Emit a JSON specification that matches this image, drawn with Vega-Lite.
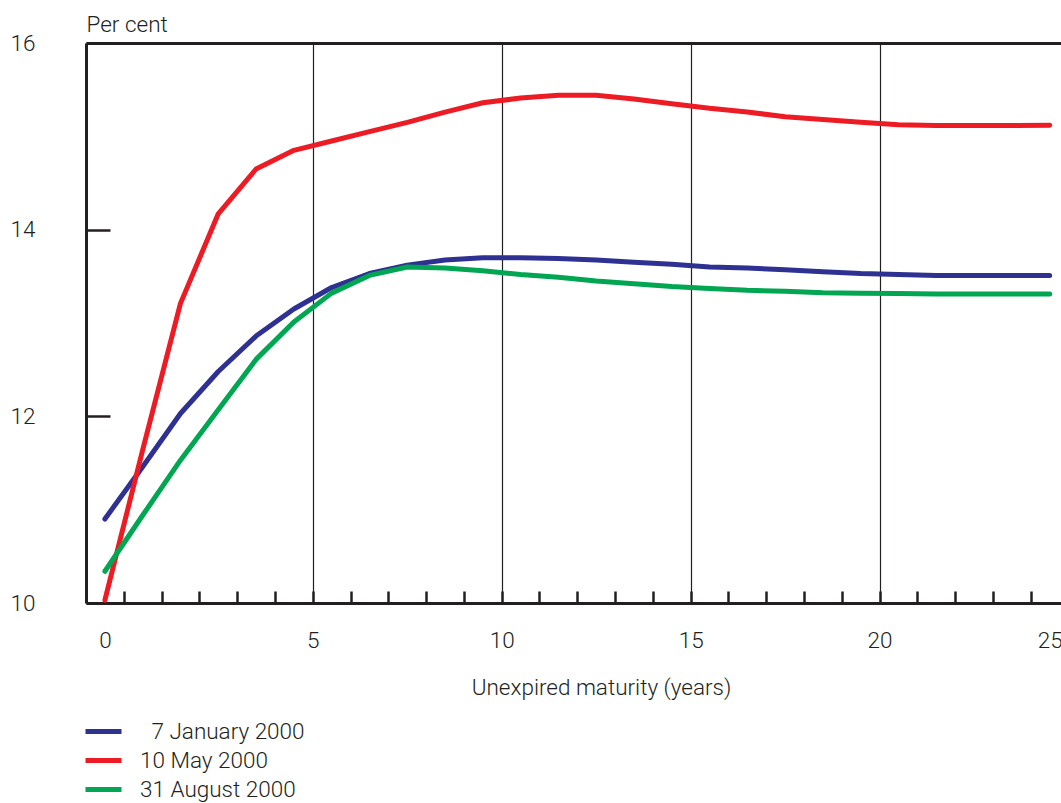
{
  "$schema": "https://vega.github.io/schema/vega-lite/v6.json",
  "width": 975,
  "height": 560,
  "autosize": {"type": "none"},
  "padding": {"left": 86, "top": 43, "right": 0, "bottom": 200},
  "background": "white",
  "config": {
    "view": {"stroke": null},
    "font": "Roboto",
    "text": {"font": "Roboto"}
  },
  "data": {
    "values": [
      {"date": "7 January 2000", "maturity": 0, "yield": 10.90},
      {"date": "7 January 2000", "maturity": 1, "yield": 11.46},
      {"date": "7 January 2000", "maturity": 2, "yield": 12.03},
      {"date": "7 January 2000", "maturity": 3, "yield": 12.48},
      {"date": "7 January 2000", "maturity": 4, "yield": 12.86},
      {"date": "7 January 2000", "maturity": 5, "yield": 13.15},
      {"date": "7 January 2000", "maturity": 6, "yield": 13.38},
      {"date": "7 January 2000", "maturity": 7, "yield": 13.53},
      {"date": "7 January 2000", "maturity": 8, "yield": 13.62},
      {"date": "7 January 2000", "maturity": 9, "yield": 13.675},
      {"date": "7 January 2000", "maturity": 10, "yield": 13.70},
      {"date": "7 January 2000", "maturity": 11, "yield": 13.70},
      {"date": "7 January 2000", "maturity": 12, "yield": 13.69},
      {"date": "7 January 2000", "maturity": 13, "yield": 13.675},
      {"date": "7 January 2000", "maturity": 14, "yield": 13.65},
      {"date": "7 January 2000", "maturity": 15, "yield": 13.63},
      {"date": "7 January 2000", "maturity": 16, "yield": 13.60},
      {"date": "7 January 2000", "maturity": 17, "yield": 13.59},
      {"date": "7 January 2000", "maturity": 18, "yield": 13.57},
      {"date": "7 January 2000", "maturity": 19, "yield": 13.55},
      {"date": "7 January 2000", "maturity": 20, "yield": 13.53},
      {"date": "7 January 2000", "maturity": 21, "yield": 13.52},
      {"date": "7 January 2000", "maturity": 22, "yield": 13.51},
      {"date": "7 January 2000", "maturity": 23, "yield": 13.51},
      {"date": "7 January 2000", "maturity": 24, "yield": 13.51},
      {"date": "7 January 2000", "maturity": 25, "yield": 13.51},
      {"date": "10 May 2000", "maturity": 0, "yield": 10.03},
      {"date": "10 May 2000", "maturity": 1, "yield": 11.64},
      {"date": "10 May 2000", "maturity": 2, "yield": 13.21},
      {"date": "10 May 2000", "maturity": 3, "yield": 14.17},
      {"date": "10 May 2000", "maturity": 4, "yield": 14.65},
      {"date": "10 May 2000", "maturity": 5, "yield": 14.85},
      {"date": "10 May 2000", "maturity": 6, "yield": 14.95},
      {"date": "10 May 2000", "maturity": 7, "yield": 15.05},
      {"date": "10 May 2000", "maturity": 8, "yield": 15.15},
      {"date": "10 May 2000", "maturity": 9, "yield": 15.26},
      {"date": "10 May 2000", "maturity": 10, "yield": 15.36},
      {"date": "10 May 2000", "maturity": 11, "yield": 15.41},
      {"date": "10 May 2000", "maturity": 12, "yield": 15.44},
      {"date": "10 May 2000", "maturity": 13, "yield": 15.44},
      {"date": "10 May 2000", "maturity": 14, "yield": 15.40},
      {"date": "10 May 2000", "maturity": 15, "yield": 15.35},
      {"date": "10 May 2000", "maturity": 16, "yield": 15.30},
      {"date": "10 May 2000", "maturity": 17, "yield": 15.26},
      {"date": "10 May 2000", "maturity": 18, "yield": 15.21},
      {"date": "10 May 2000", "maturity": 19, "yield": 15.18},
      {"date": "10 May 2000", "maturity": 20, "yield": 15.15},
      {"date": "10 May 2000", "maturity": 21, "yield": 15.125},
      {"date": "10 May 2000", "maturity": 22, "yield": 15.115},
      {"date": "10 May 2000", "maturity": 23, "yield": 15.115},
      {"date": "10 May 2000", "maturity": 24, "yield": 15.115},
      {"date": "10 May 2000", "maturity": 25, "yield": 15.12},
      {"date": "31 August 2000", "maturity": 0, "yield": 10.34},
      {"date": "31 August 2000", "maturity": 1, "yield": 10.94},
      {"date": "31 August 2000", "maturity": 2, "yield": 11.53},
      {"date": "31 August 2000", "maturity": 3, "yield": 12.07},
      {"date": "31 August 2000", "maturity": 4, "yield": 12.61},
      {"date": "31 August 2000", "maturity": 5, "yield": 13.01},
      {"date": "31 August 2000", "maturity": 6, "yield": 13.32},
      {"date": "31 August 2000", "maturity": 7, "yield": 13.51},
      {"date": "31 August 2000", "maturity": 8, "yield": 13.60},
      {"date": "31 August 2000", "maturity": 9, "yield": 13.59},
      {"date": "31 August 2000", "maturity": 10, "yield": 13.56},
      {"date": "31 August 2000", "maturity": 11, "yield": 13.52},
      {"date": "31 August 2000", "maturity": 12, "yield": 13.49},
      {"date": "31 August 2000", "maturity": 13, "yield": 13.45},
      {"date": "31 August 2000", "maturity": 14, "yield": 13.42},
      {"date": "31 August 2000", "maturity": 15, "yield": 13.39},
      {"date": "31 August 2000", "maturity": 16, "yield": 13.37},
      {"date": "31 August 2000", "maturity": 17, "yield": 13.35},
      {"date": "31 August 2000", "maturity": 18, "yield": 13.34},
      {"date": "31 August 2000", "maturity": 19, "yield": 13.325},
      {"date": "31 August 2000", "maturity": 20, "yield": 13.32},
      {"date": "31 August 2000", "maturity": 21, "yield": 13.315},
      {"date": "31 August 2000", "maturity": 22, "yield": 13.31},
      {"date": "31 August 2000", "maturity": 23, "yield": 13.31},
      {"date": "31 August 2000", "maturity": 24, "yield": 13.31},
      {"date": "31 August 2000", "maturity": 25, "yield": 13.31}
    ]
  },
  "layer": [
    {
      "mark": {"type": "line", "strokeWidth": 5, "strokeCap": "round", "strokeJoin": "round"},
      "encoding": {
        "x": {
          "field": "maturity",
          "type": "quantitative",
          "scale": {"domain": [-0.5, 25.3], "nice": false, "zero": false},
          "axis": {
            "orient": "bottom",
            "values": [0, 0.5, 1.5, 2.5, 3.5, 4.5, 5.5, 6.5, 7.5, 8.5, 9.5, 10.5, 11.5, 12.5, 13.5, 14.5, 15.5, 16.5, 17.5, 18.5, 19.5, 20.5, 21.5, 22.5, 23.5, 24.5, 25],
            "domain": true,
            "domainColor": "#231f20",
            "domainWidth": 3,
            "ticks": true,
            "tickSize": -12,
            "tickWidth": 2.5,
            "tickColor": "#231f20",
            "tickOpacity": {"condition": {"test": "datum.value == 0 || datum.value == 25", "value": 0}, "value": 1},
            "grid": true,
            "gridColor": "#231f20",
            "gridWidth": 1.2,
            "gridOpacity": {"condition": {"test": "datum.value > 1 && (datum.value - 0.5) % 5 == 0", "value": 1}, "value": 0},
            "labelExpr": "datum.value == 0 ? '0' : datum.value == 25 ? '25' : (datum.value > 1 && (datum.value - 0.5) % 5 == 0 ? format(datum.value - 0.5, 'd') : '')",
            "labelFont": "Roboto",
            "labelFontSize": 22.5,
            "labelFontWeight": 300,
            "labelColor": "#231f20",
            "labelPadding": 38,
            "labelOverlap": false,
            "labelFlush": false,
            "labelBound": false,
            "title": "Unexpired maturity (years)",
            "titleFont": "Roboto",
            "titleFontSize": 22.5,
            "titleFontWeight": 300,
            "titleColor": "#231f20",
            "titleAnchor": "start",
            "titleAlign": "center",
            "titleBaseline": "alphabetic",
            "titleX": 515,
            "titleY": 91
          }
        },
        "y": {
          "field": "yield",
          "type": "quantitative",
          "scale": {"domain": [10, 16], "nice": false, "zero": false},
          "axis": {
            "values": [10, 12, 14, 16],
            "domain": true,
            "domainColor": "#231f20",
            "domainWidth": 3,
            "ticks": true,
            "tickSize": -24,
            "tickWidth": 2.5,
            "tickColor": "#231f20",
            "grid": false,
            "labelFont": "Roboto",
            "labelFontSize": 22.5,
            "labelFontWeight": 300,
            "labelColor": "#231f20",
            "labelPadding": 75,
            "labelFlush": false,
            "labelOverlap": false,
            "labelBound": false,
            "format": "d",
            "title": "Per cent",
            "titleFont": "Roboto",
            "titleFontSize": 22.5,
            "titleFontWeight": 300,
            "titleColor": "#231f20",
            "titleAngle": 0,
            "titleAnchor": "start",
            "titleAlign": "left",
            "titleBaseline": "alphabetic",
            "titleX": 0,
            "titleY": -12
          }
        },
        "color": {
          "field": "date",
          "type": "nominal",
          "scale": {
            "domain": ["7 January 2000", "10 May 2000", "31 August 2000"],
            "range": ["#2e3192", "#ed1c24", "#00a651"]
          },
          "legend": {
            "orient": "none",
            "legendX": 6,
            "legendY": 677,
            "title": null,
            "padding": 0,
            "symbolType": "M-2,0H2",
            "symbolSize": 324,
            "symbolStrokeWidth": 5,
            "labelFont": "Roboto",
            "labelFontSize": 22.5,
            "labelFontWeight": 300,
            "labelColor": "#231f20",
            "labelOffset": 25,
            "labelLimit": 400,
            "labelExpr": "datum.label == '7 January 2000' ? '\u200b\u2002' + datum.label : datum.label",
            "rowPadding": 6
          }
        }
      }
    },
    {
      "mark": {"type": "line", "opacity": 0},
      "encoding": {
        "x": {
          "field": "maturity",
          "type": "quantitative",
          "axis": {
            "orient": "top",
            "domain": true,
            "domainColor": "#231f20",
            "domainWidth": 3,
            "ticks": false,
            "labels": false,
            "grid": false,
            "title": null
          }
        },
        "y": {"field": "yield", "type": "quantitative"}
      }
    }
  ],
  "resolve": {"axis": {"x": "independent"}}
}
